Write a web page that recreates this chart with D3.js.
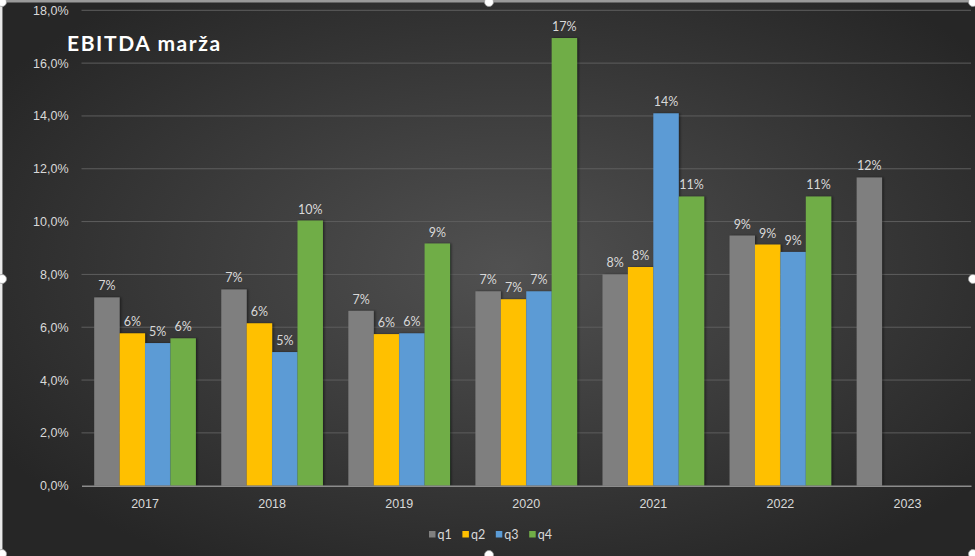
<!DOCTYPE html>
<html>
<head>
<meta charset="utf-8">
<script src="https://cdn.jsdelivr.net/npm/d3@7"></script>
<style>
  html, body { margin: 0; padding: 0; background: #ffffff; }
  svg { display: block; font-family: Lato, "Open Sans", sans-serif; }
</style>
</head>
<body>
<svg id="chart" width="975" height="556"></svg>
<script>
// values, in percent
const years = ["2017", "2018", "2019", "2020", "2021", "2022", "2023"];
const quarters = ["q1", "q2", "q3", "q4"];
const q1 = [7.13, 7.43, 6.62, 7.36, 8.0, 9.47, 11.67];
const q2 = [5.77, 6.15, 5.74, 7.06, 8.28, 9.13, null];
const q3 = [5.4, 5.06, 5.77, 7.36, 14.1, 8.85, null];
const q4 = [5.58, 10.04, 9.17, 16.95, 10.95, 10.95, null];
const yTicks = [0, 2, 4, 6, 8, 10, 12, 14, 16, 18];
const colors = ["#7f7f7f", "#ffc000", "#5b9bd5", "#70ad47"];

const series = [q1, q2, q3, q4];
const bars = [];
years.forEach((y, i) => {
  series.forEach((s, k) => {
    if (s[i] != null) bars.push({ year: y, q: quarters[k], value: s[i] });
  });
});

const W = 975, H = 556;
const margin = { top: 10.3, right: 4, bottom: 70.3, left: 81.5 };
const svg = d3.select("#chart");

// background gradient + bar shadow
const defs = svg.append("defs");
const grad = defs.append("radialGradient")
  .attr("id", "bg").attr("cx", "52%").attr("cy", "48%").attr("r", "62%");
grad.append("stop").attr("offset", "0%").attr("stop-color", "#515151");
grad.append("stop").attr("offset", "100%").attr("stop-color", "#262626");
const shadow = defs.append("filter").attr("id", "shadow")
  .attr("x", "-20%").attr("y", "-5%").attr("width", "150%").attr("height", "115%");
shadow.append("feDropShadow").attr("dx", 1.5).attr("dy", 0).attr("stdDeviation", 1.2)
  .attr("flood-color", "#000").attr("flood-opacity", 0.45);

svg.append("rect").attr("width", W).attr("height", H).attr("fill", "url(#bg)");

const x0 = d3.scaleBand().domain(years)
  .range([margin.left, W - margin.right]).paddingInner(0.2).paddingOuter(0.1);
const x1 = d3.scaleBand().domain(quarters).range([0, x0.bandwidth()]);
const y = d3.scaleLinear().domain([0, 18]).range([H - margin.bottom, margin.top]);

const fmtTick = d3.formatLocale({ decimal: ",", thousands: ".", grouping: [3], currency: ["", ""] })
  .format(".1f");

// gridlines
svg.append("g")
  .selectAll("line")
  .data(yTicks.filter((d) => d > 0))
  .join("line")
  .attr("x1", margin.left).attr("x2", W - margin.right)
  .attr("y1", (d) => y(d)).attr("y2", (d) => y(d))
  .attr("stroke", "#5e5e5e").attr("stroke-width", 1);

// y axis labels
const yAxis = svg.append("g")
  .attr("transform", `translate(${margin.left},0)`)
  .call(d3.axisLeft(y).tickValues(yTicks).tickSize(0).tickPadding(13)
    .tickFormat((d) => fmtTick(d) + "%"));
yAxis.select(".domain").remove();
yAxis.selectAll("text").attr("fill", "#d9d9d9").attr("font-size", 12.5);

// bars
svg.append("g")
  .selectAll("rect")
  .data(bars)
  .join("rect")
  .attr("x", (d) => x0(d.year) + x1(d.q))
  .attr("y", (d) => y(d.value))
  .attr("width", x1.bandwidth())
  .attr("height", (d) => y(0) - y(d.value))
  .attr("fill", (d) => colors[quarters.indexOf(d.q)])
  .attr("filter", "url(#shadow)");

// data labels
svg.append("g")
  .selectAll("text")
  .data(bars)
  .join("text")
  .attr("x", (d) => x0(d.year) + x1(d.q) + x1.bandwidth() / 2)
  .attr("y", (d) => y(d.value) - 7)
  .attr("text-anchor", "middle")
  .attr("fill", "#d9d9d9")
  .attr("font-size", 12.5)
  .text((d) => Math.round(d.value) + "%");

// x axis
const xAxis = svg.append("g")
  .attr("transform", `translate(0,${y(0)})`)
  .call(d3.axisBottom(x0).tickSize(0).tickPadding(13));
xAxis.select(".domain").attr("stroke", "#8c8c8c").attr("stroke-width", 1.5);
xAxis.selectAll("text").attr("fill", "#d9d9d9").attr("font-size", 12.5);

// title
svg.append("text")
  .attr("x", 67).attr("y", 51)
  .attr("fill", "#ffffff")
  .attr("font-size", 21)
  .attr("font-weight", "bold")
  .attr("letter-spacing", 1.6)
  .text("EBITDA marža");

// legend
const legend = svg.append("g").attr("transform", "translate(429,531)");
const item = legend.selectAll("g")
  .data(quarters)
  .join("g")
  .attr("transform", (d, i) => `translate(${i * 33.4},0)`);
item.append("rect").attr("width", 6.5).attr("height", 6.5)
  .attr("fill", (d, i) => colors[i]);
item.append("text").attr("x", 8.5).attr("y", 7.5)
  .attr("fill", "#d9d9d9").attr("font-size", 12.5).text((d) => d);

// selection frame and handles
svg.append("line").attr("x1", 0).attr("x2", W).attr("y1", 1.2).attr("y2", 1.2)
  .attr("stroke", "#9a9a9a").attr("stroke-width", 2.5);
svg.append("line").attr("x1", 1.2).attr("x2", 1.2).attr("y1", 0).attr("y2", H)
  .attr("stroke", "#e8e8e8").attr("stroke-width", 2.5);
const handles = [[2, 2], [489, 2], [973, 2], [2, 279], [973, 279], [2, 554], [489, 555], [973, 554]];
svg.append("g")
  .selectAll("circle")
  .data(handles)
  .join("circle")
  .attr("cx", (d) => d[0]).attr("cy", (d) => d[1]).attr("r", 4.5)
  .attr("fill", "#ffffff").attr("stroke", "#9a9a9a").attr("stroke-width", 0.8);
</script>
</body>
</html>
